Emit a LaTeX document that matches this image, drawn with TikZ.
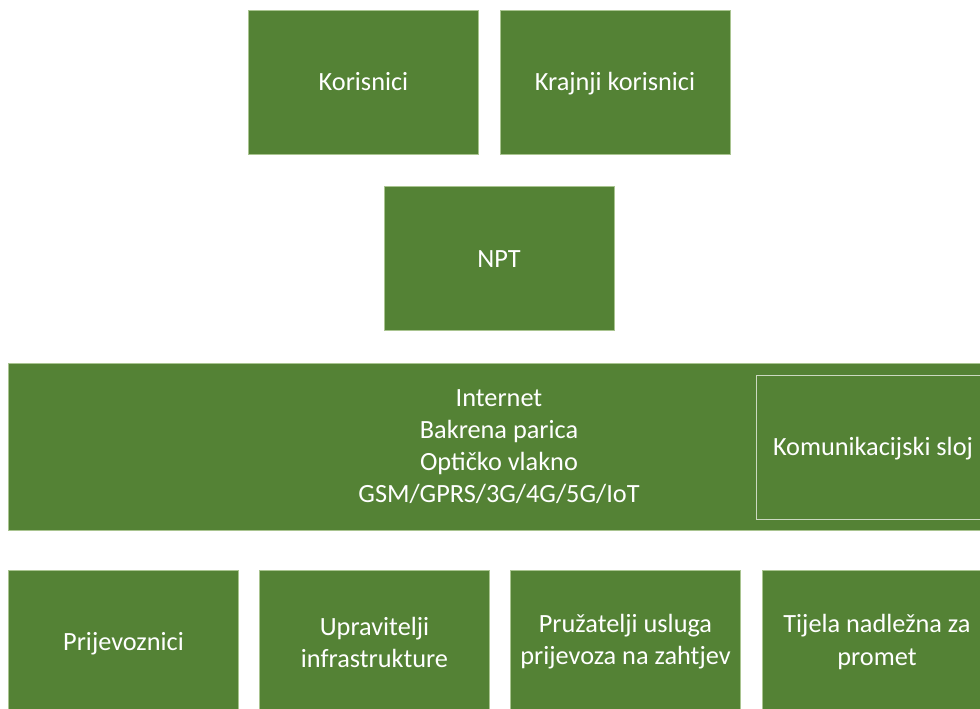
\documentclass[tikz,border=0pt]{standalone}
\usepackage{fontspec}
\setmainfont{Carlito}
\usetikzlibrary{positioning}
\definecolor{boxgreen}{HTML}{548235}
\definecolor{edgegreen}{HTML}{A9C490}

\tikzset{
  box/.style={fill=boxgreen,draw=edgegreen,line width=0.4pt,text=white,align=center,
    inner sep=0pt,minimum width=5.75cm,minimum height=3.6cm,
    font=\fontsize{18.7}{22.8}\selectfont},
  oneline/.style={text height=12.5pt,text depth=0pt}
}

\begin{document}
\begin{tikzpicture}[x=0.025cm,y=-0.025cm]
  \useasboundingbox (0,0) rectangle (980,709);
  \clip (0,0) rectangle (980,709);
  % top row
  \node[box,oneline] (kor) at (363.5,82) {Korisnici};
  \node[box,oneline] (kraj) at (615,82) {Krajnji korisnici};
  \node[box,oneline] (npt) at (499,258.5) {NPT};
  % communication layer
  \node[box,minimum width=24.55cm,minimum height=4.175cm] (sloj) at (499,446.5)
    {Internet\\Bakrena parica\\Optičko vlakno\\GSM/GPRS/3G/4G/5G/IoT};
  \node[box,oneline,fill=none,draw=white!70!boxgreen,line width=0.5pt,minimum width=5.85cm] (kom) at (873,447)
    {Komunikacijski sloj};
  % bottom row
  \node[box,oneline] (prij) at (123.5,642) {Prijevoznici};
  \node[box] (upr) at (374.5,642) {Upravitelji\\infrastrukture};
  \node[box] (pruz) at (625.5,642) {Pružatelji usluga\\prijevoza na zahtjev};
  \node[box] (tij) at (877,642) {Tijela nadležna za\\promet};
\end{tikzpicture}
\end{document}
